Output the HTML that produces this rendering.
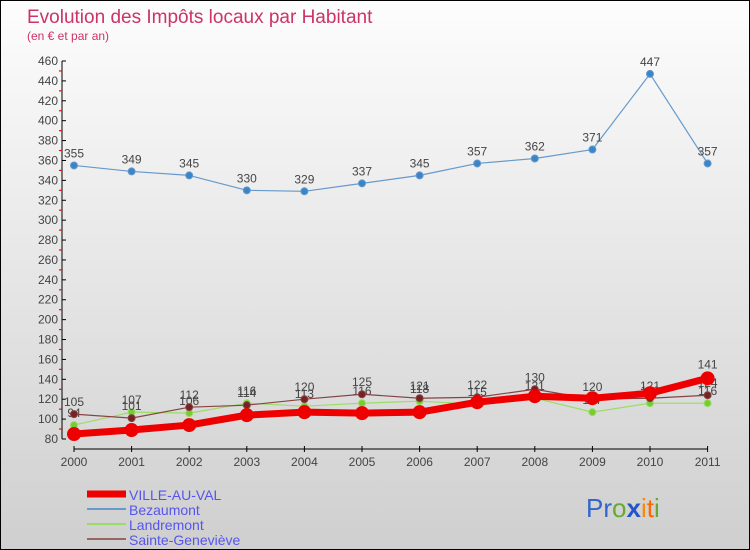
<!DOCTYPE html>
<html><head><meta charset="utf-8"><style>
html,body{margin:0;padding:0}
body{width:750px;height:550px;overflow:hidden;font-family:"Liberation Sans",sans-serif}
#wrap{position:absolute;left:0;top:0;width:748px;height:548px;border:1px solid #000;background:linear-gradient(#fdfdfd,#cfcfcf)}
</style></head><body>
<div id="wrap">
<svg id="chart" width="748" height="548" style="position:absolute;left:0;top:0" font-family="Liberation Sans, sans-serif">
<text x="26" y="22" font-size="19" fill="#cc3366">Evolution des Impôts locaux par Habitant</text>
<text x="26" y="39" font-size="12" fill="#cc3366">(en € et par an)</text>
<g id="axes"></g><g id="series"></g><g id="legend"></g>
<text x="585" y="516" font-size="26"><tspan fill="#3366cc">Pr</tspan><tspan fill="#66aa33">o</tspan><tspan fill="#2255cc" font-weight="bold">x</tspan><tspan fill="#ff8800">i</tspan><tspan fill="#ff6600">t</tspan><tspan fill="#66aa33">i</tspan></text>
</svg>
</div>
<script>
const years=["2000","2001","2002","2003","2004","2005","2006","2007","2008","2009","2010","2011"];
const yTicks=[80,100,120,140,160,180,200,220,240,260,280,300,320,340,360,380,400,420,440,460];
const ville=[85,89,94,104,107,106,107,117,123,121,126,141];
const bezaumont=[355,349,345,330,329,337,345,357,362,371,447,357];
const landremont=[94,107,106,116,113,116,118,115,121,107,116,116];
const sainteGen=[105,101,112,114,120,125,121,122,130,120,121,124];
const NS="http://www.w3.org/2000/svg";
const x0=73,dx=57.6,yBase=438,yMin=80,yMax=460,yTop=60;
const X=i=>x0+i*dx;
const Y=v=>yBase-(v-yMin)*(yBase-yTop)/(yMax-yMin);
function mk(t,a,p){const e=document.createElementNS(NS,t);for(const k in a)e.setAttribute(k,a[k]);p.appendChild(e);return e;}
const axes=document.getElementById('axes'),ser=document.getElementById('series'),leg=document.getElementById('legend');
const ya=mk('line',{x1:61,y1:yTop,x2:61,y2:yBase,stroke:'#000'},axes);


yTicks.forEach((v,i)=>{
 const y=Y(v);
 mk('line',{x1:61,y1:y,x2:65,y2:y,stroke:'#000'},axes);
 if(i<yTicks.length-1){const ym=Y(v+10);mk('line',{x1:58,y1:ym,x2:61,y2:ym,stroke:'#ff0000','stroke-width':1.2},axes);}
 const t=mk('text',{x:57,y:y+4,'text-anchor':'end','font-size':12,fill:'#444'},axes);
 t.textContent=v;
 
 
});
const xa=mk('line',{x1:X(0),y1:448,x2:X(11),y2:448,stroke:'#000'},axes);


years.forEach((yr,i)=>{
 mk('line',{x1:X(i),y1:445,x2:X(i),y2:451,stroke:'#000'},axes);
 const t=mk('text',{x:X(i),y:465,'text-anchor':'middle','font-size':12,fill:'#444'},axes);
 t.textContent=yr;
 
 
});
function series(vals,name,color,w,r,dot,labels){
 const g=mk('g',{},ser);
 
 
 const pl=mk('polyline',{points:vals.map((v,i)=>X(i)+','+Y(v)).join(' '),fill:'none',stroke:color,'stroke-width':w,'stroke-linejoin':'round'},g);
 
 
 vals.forEach((v,i)=>{
  const c=mk('circle',{cx:X(i),cy:Y(v),r:r,fill:dot,stroke:color,'stroke-width':1},g);
  
  
  if(labels){const t=mk('text',{x:X(i),y:Y(v)-8,'text-anchor':'middle','font-size':12,fill:'#444'},g);
   t.textContent=v;
   
   }
 });
}
series(bezaumont,'bezaumont','#6699cc',1.2,3.5,'#3a85c8',true);
series(landremont,'landremont','#99dd66',1.2,3.5,'#77cc33',true);
series(sainteGen,'sainte-genevieve','#884444',1.2,3.5,'#772222',true);
series(ville,'ville-au-val','#ee0000',7,6.5,'#ee0000',false);
const lt=mk('text',{x:X(11),y:Y(141)-10,'text-anchor':'middle','font-size':12,fill:'#444'},ser);
lt.textContent=ville[11];


const L=[["VILLE-AU-VAL","#ee0000",7],["Bezaumont","#6699cc",2],["Landremont","#99dd66",2],["Sainte-Geneviève","#996666",2]];
L.forEach((e,i)=>{
 const y=493+i*15;
 const ln=mk('line',{x1:86,y1:y,x2:125,y2:y,stroke:e[1],'stroke-width':e[2]},leg);
 
 
 const t=mk('text',{x:128,y:y+6,'font-size':14,fill:'#5555ee'},leg);
 t.textContent=e[0];
 
 
});
</script>
</body></html>
